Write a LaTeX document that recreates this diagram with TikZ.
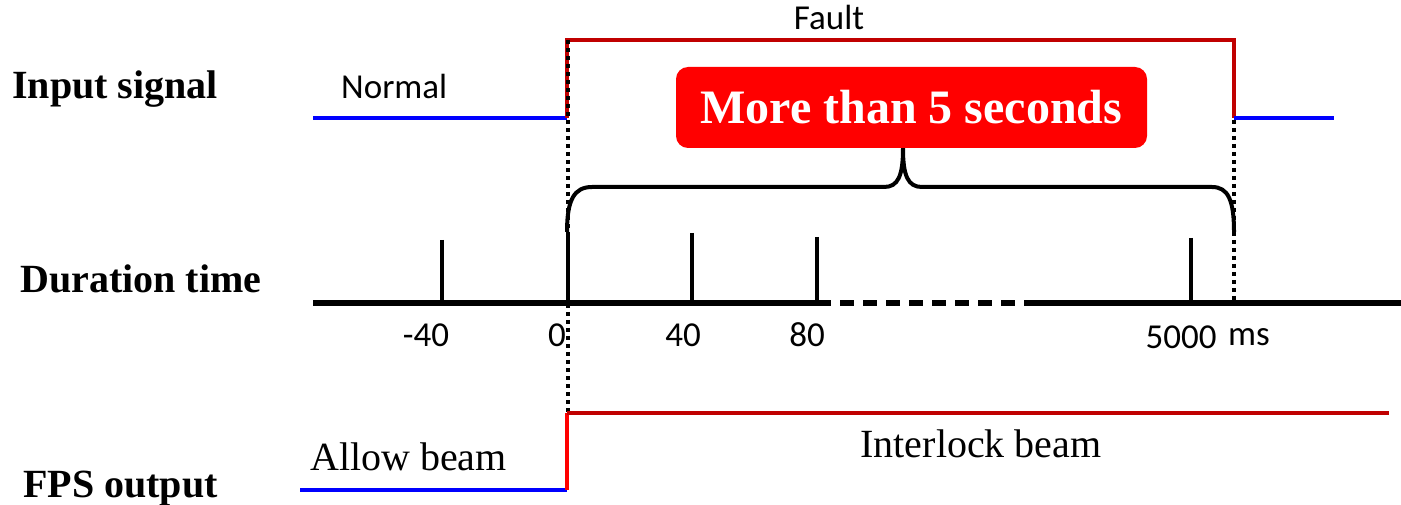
\documentclass[tikz,border=0pt]{standalone}
\usepackage{fontspec}
\setmainfont{Liberation Serif}
\newfontfamily\uisans{Carlito}
\definecolor{sigred}{HTML}{C00000}
\definecolor{edgered}{HTML}{FF0000}
\definecolor{sigblue}{HTML}{0000FF}
\begin{document}
\begin{tikzpicture}[x=1pt,y=-1pt,
  low/.style={sigblue,line width=4pt},
  high/.style={sigred,line width=4pt},
  guide/.style={black,line width=3.5pt,dash pattern=on 4pt off 4pt},
  axis/.style={black,line width=5pt},
  tick/.style={black,line width=3.5pt},
  rowlabel/.style={anchor=base west,inner sep=0pt,font=\fontsize{40}{44}\selectfont\bfseries},
  beamlabel/.style={inner sep=0pt,font=\fontsize{40}{44}\selectfont},
  sanslabel/.style={inner sep=0pt,font=\uisans\fontsize{35}{38}\selectfont},
  num/.style={sanslabel,anchor=base}]
\useasboundingbox (0,0) rectangle (1401,505);

% row titles
\node[rowlabel] (tin)  at (12,99)  {Input signal};
\node[rowlabel] (tdur) at (20,292) {Duration time};
\node[rowlabel] (tfps) at (23,497) {FPS output};

% input signal trace
\coordinate (iA) at (313,118);
\coordinate (iB) at (567,118);
\coordinate (iC) at (567,40);
\coordinate (iD) at (1234,40);
\coordinate (iE) at (1234,118);
\coordinate (iF) at (1334,118);
\draw[low] (iA) -- (iB);
\draw[high,line join=miter] (iB) -- (iC) -- (iD) -- (iE);
\draw[low] (iE) -- (iF);
\node[sanslabel,anchor=base] (fault)  at (829,30) {Fault};
\node[sanslabel,anchor=base west] (normal) at (341,99) {Normal};

% guide lines
\coordinate (gA) at (568,40);
\coordinate (gB) at (568,412);
\coordinate (gC) at (1234,120);
\coordinate (gD) at (1234,300);
\draw[guide] (gA) -- (gB);
\draw[guide] (gC) -- (gD);

% duration callout
\node[fill=edgered,rounded corners=12pt,minimum width=471pt,minimum height=81pt,
      inner sep=0pt,text=white,font=\fontsize{48}{52}\selectfont\bfseries]
      (dur) at (911.5,107.5) {More than 5 seconds};
\coordinate (bL) at (567,232);
\coordinate (bR) at (1234,232);
\draw[black,line width=4pt]
  (bL) .. controls (567,200) and (574,187) .. (592,187)
  -- (884,187) .. controls (898,187) and (903,176) .. (dur.south -| 903,0)
  (dur.south -| 903,0) .. controls (903,176) and (908,187) .. (922,187)
  -- (1212,187) .. controls (1228,187) and (1234,200) .. (bR);

% time axis
\coordinate (aA) at (313,303);
\coordinate (aB) at (817,303);
\coordinate (aC) at (1027,303);
\coordinate (aD) at (1401,303);
\draw[axis] (aA) -- (aB);
\draw[axis,dash pattern=on 14pt off 9pt] (aB) -- (aC);
\draw[axis] (aC) -- (aD);
\foreach \x/\top in {442/240,568/233,692/233,817/237,1191/238}
  \draw[tick] (\x,\top) -- (\x,303);
\node[num] (n1) at (426,346) {-40};
\node[num] (n2) at (557,346) {0};
\node[num] (n3) at (683,346) {40};
\node[num] (n4) at (807,346) {80};
\node[num] (n5) at (1181,348) {5000};
\node[num] (n6) at (1249,345) {ms};

% FPS output trace
\coordinate (oA) at (300,490);
\coordinate (oB) at (567,490);
\coordinate (oC) at (567,413);
\coordinate (oD) at (1389,413);
\draw[low] (oA) -- (oB);
\draw[edgered,line width=4pt] (oB) -- (oC);
\draw[high] (oC) -- (oD);
\node[beamlabel,anchor=base west] (allow) at (310,470) {Allow beam};
\node[beamlabel,anchor=base] (inter) at (981,457) {Interlock beam};
\end{tikzpicture}
\end{document}
